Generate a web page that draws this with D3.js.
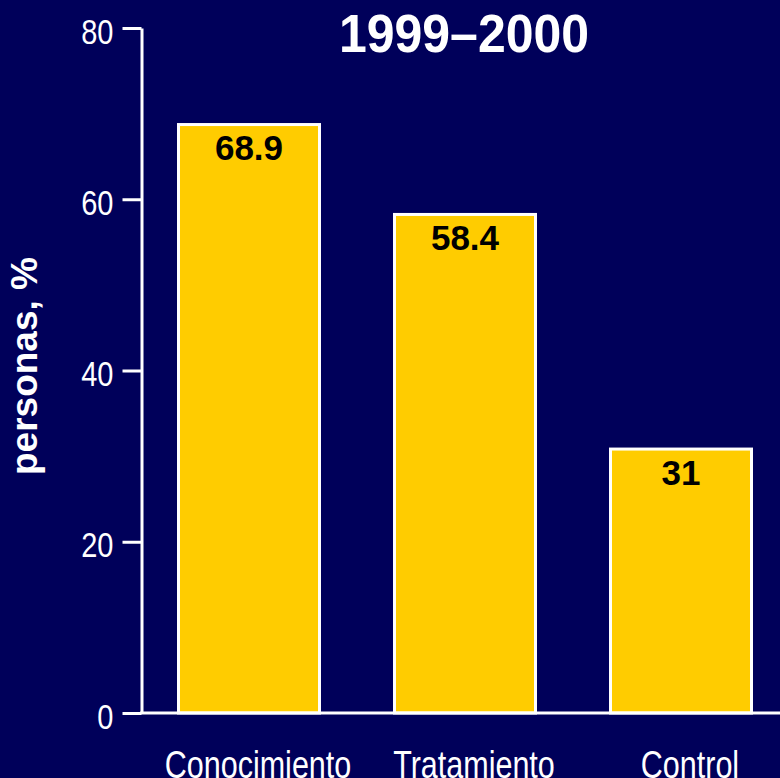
<!DOCTYPE html>
<html><head><meta charset="utf-8">
<script src="https://cdn.jsdelivr.net/npm/d3@7"></script>
<style>html,body{margin:0;padding:0;background:#00005a;}svg{display:block;}</style>
</head><body>
<script>
const categories = ["Conocimiento", "Tratamiento", "Control"];
const values = [68.9, 58.4, 31];
const valueLabels = ["68.9", "58.4", "31"];
const yTicks = [0, 20, 40, 60, 80];
const title = "1999–2000";
const yLabel = "personas, %";

const W = 780, H = 778;
const bg = "#00005a", barFill = "#ffcc00";
const font = "'Liberation Sans', Arial, sans-serif";

const svg = d3.select("body").append("svg").attr("width", W).attr("height", H)
  .style("background", bg);
svg.append("rect").attr("width", W).attr("height", H).attr("fill", bg);

const x = d3.scaleBand().domain(categories).range([141, 789]).paddingInner(1/3).paddingOuter(1/6);
const y = d3.scaleLinear().domain([0, 80]).range([713, 28]);

// bars
svg.selectAll("rect.bar").data(values).join("rect").attr("class", "bar")
  .attr("x", (d, i) => x(categories[i]) + 1.5)
  .attr("width", x.bandwidth() - 3)
  .attr("y", d => y(d) + 1.5)
  .attr("height", d => y(0) - y(d) - 1.5)
  .attr("fill", barFill).attr("stroke", "#fff").attr("stroke-width", 3);

// value labels
svg.selectAll("text.val").data(values).join("text").attr("class", "val")
  .attr("x", (d, i) => x(categories[i]) + x.bandwidth() / 2)
  .attr("y", d => y(d) + 37)
  .attr("text-anchor", "middle")
  .attr("font-family", font).attr("font-weight", "bold").attr("font-size", 35)
  .attr("fill", "#000")
  .text((d, i) => valueLabels[i]);

// y axis
const yAxis = d3.axisLeft(y).tickValues(yTicks).tickSize(19).tickPadding(8).tickSizeOuter(0);
const gy = svg.append("g").attr("transform", "translate(141.5,0)").call(yAxis);
gy.select(".domain").attr("stroke", "#fff").attr("stroke-width", 3);
gy.selectAll(".tick line").attr("stroke", "#fff").attr("stroke-width", 3);
gy.selectAll(".tick text").attr("fill", "#fff").attr("font-family", font).attr("font-size", 29)
  .attr("x", 0).attr("dy", 12.7)
  .attr("transform", "translate(-28,0) scale(1,1.2)");

// baseline
svg.append("line").attr("x1", 140).attr("x2", W).attr("y1", y(0)).attr("y2", y(0))
  .attr("stroke", "#fff").attr("stroke-width", 3);

// category labels
svg.selectAll("text.cat").data(categories).join("text").attr("class", "cat")
  .attr("transform", d => `translate(${x(d) + x.bandwidth() / 2 + 9},778) scale(1,1.25)`)
  .attr("text-anchor", "middle")
  .attr("font-family", font).attr("font-size", 30.5)
  .attr("fill", "#fff")
  .text(d => d);

// title
svg.append("text").attr("transform", "translate(464,52) scale(1,1.08)").attr("text-anchor", "middle")
  .attr("font-family", font).attr("font-weight", "bold").attr("font-size", 50)
  .attr("fill", "#fff").text(title);

// y label
svg.append("text").attr("transform", "translate(37,366) rotate(-90)")
  .attr("text-anchor", "middle")
  .attr("font-family", font).attr("font-weight", "bold").attr("font-size", 37)
  .attr("fill", "#fff").text(yLabel);
</script>
</body></html>
